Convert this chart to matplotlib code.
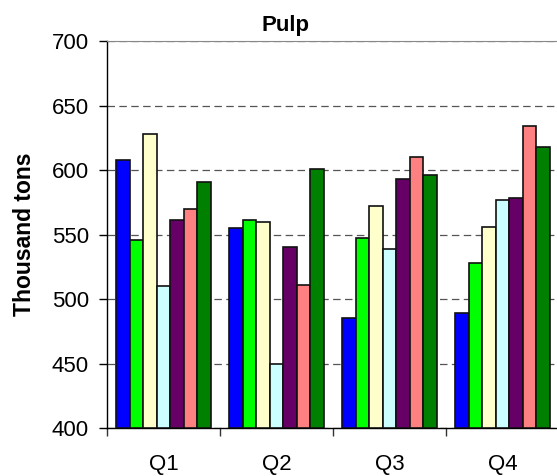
import numpy as np
import matplotlib
matplotlib.use("Agg")
import matplotlib.pyplot as plt

plt.rcParams['font.family'] = ['Liberation Sans', 'DejaVu Sans']

# data
quarters = ['Q1', 'Q2', 'Q3', 'Q4']
s1 = [608, 555, 485, 489]
s2 = [546, 561, 547, 528]
s3 = [628, 560, 572, 556]
s4 = [510, 450, 539, 577]
s5 = [561, 540, 593, 578]
s6 = [570, 511, 610, 634]
s7 = [591, 601, 596, 618]
series = [s1, s2, s3, s4, s5, s6, s7]
colors = ['#0000FF', '#00FF00', '#FFFFCC', '#CCFFFF', '#660066', '#FF8080', '#008000']

fig = plt.figure(figsize=(5.57, 4.76), dpi=100)
ax = fig.add_axes([0.192, 0.1008, 0.8115, 0.813])

x = np.arange(len(quarters))
width = 0.119
for i, (vals, c) in enumerate(zip(series, colors)):
    ax.bar(x + (i - 3) * width, np.array(vals) - 400, width, bottom=400,
           color=c, edgecolor='#111111', linewidth=1.2, zorder=3)

ax.set_ylim(400, 700)
ax.set_xlim(-0.5, 3.5)
ax.set_yticks(np.arange(400, 701, 50))
ax.yaxis.grid(True, linestyle=(0, (6, 3.5)), color='#555555', linewidth=0.9, zorder=0)

# category ticks sit between groups, labels centred on groups
ax.set_xticks(np.arange(-0.5, 3.6, 1.0))
ax.set_xticklabels([])
ax.set_xticks(x, minor=True)
ax.set_xticklabels(quarters, minor=True)
ax.tick_params(axis='x', which='minor', length=0, pad=19, labelsize=16)
ax.tick_params(axis='x', which='major', length=6, width=1, color='#333333')
ax.tick_params(axis='y', length=6, width=1, pad=7, labelsize=16)

ax.spines['top'].set_color('#888888')
ax.spines['right'].set_visible(False)
ax.spines['left'].set_linewidth(1.0)
ax.spines['bottom'].set_linewidth(1.0)

ax.set_ylabel('Thousand tons', fontsize=16.5, fontweight='bold')
ax.yaxis.set_label_coords(-0.157, 0.5)
ax.set_title('Pulp', fontsize=16, fontweight='bold', pad=7, x=0.395)

fig.savefig('out.png', dpi=100)
